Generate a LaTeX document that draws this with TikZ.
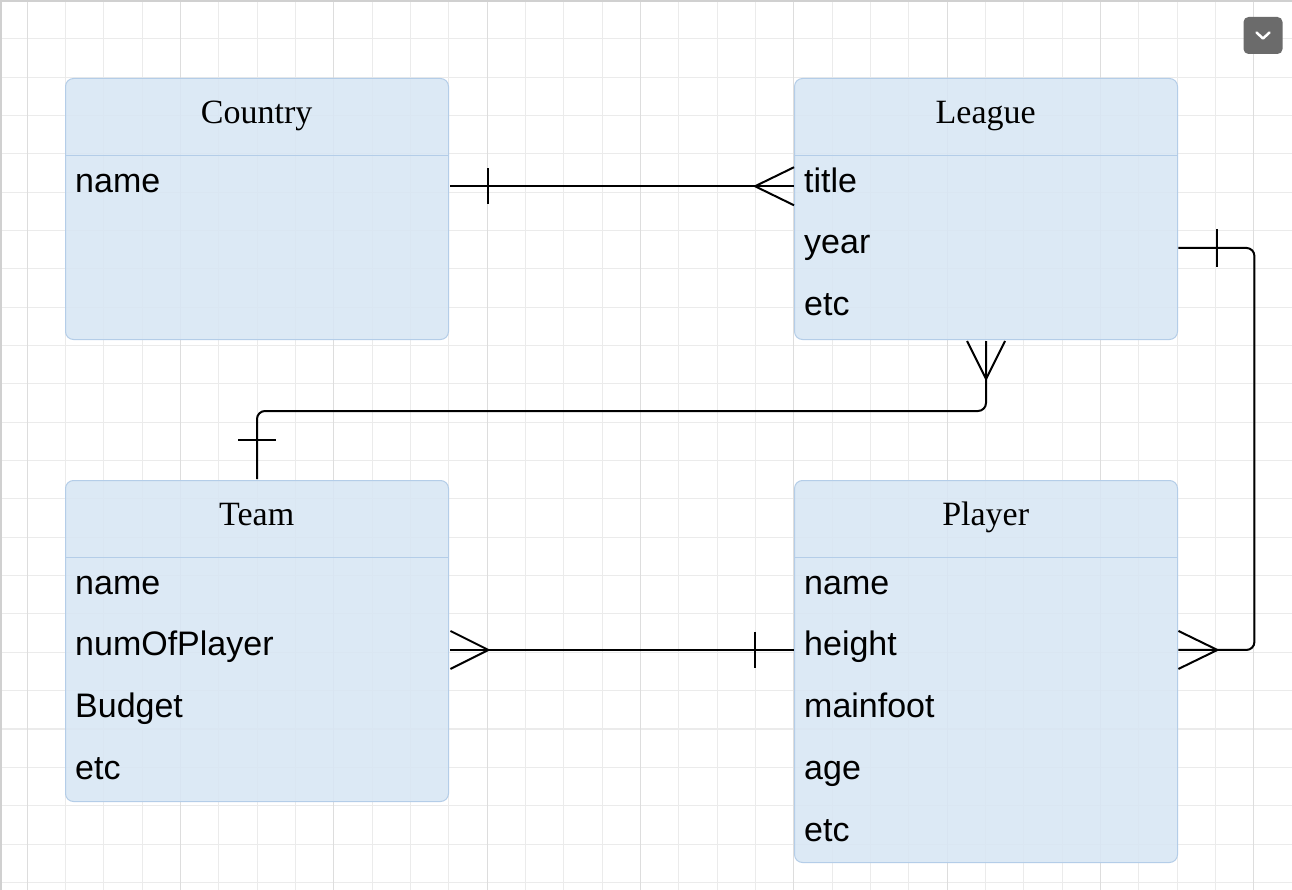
\documentclass[tikz,border=0pt]{standalone}
\usepackage{fontspec}
\setmainfont{Liberation Serif}
\setsansfont{Liberation Sans}
\definecolor{boxfill}{HTML}{D8E6F4}
\definecolor{boxline}{HTML}{B4CDE8}
\definecolor{gridminor}{HTML}{EBEBEB}
\definecolor{gridmajor}{HTML}{DDDDDD}
\definecolor{btn}{HTML}{6B6B6B}
\definecolor{frameline}{HTML}{D0D0D0}
\begin{document}
\begin{tikzpicture}[x=1pt,y=-1pt,
  entity/.style={draw=boxline, line width=1pt, fill=boxfill, fill opacity=0.88,
    rounded corners=8pt, minimum width=383pt, anchor=north west, inner sep=0pt},
  header/.style={minimum width=383pt, minimum height=77pt, anchor=north west,
    inner sep=0pt, font=\fontsize{34}{40}\selectfont, text height=14pt, text depth=0pt},
  sepline/.style={draw=boxline, line width=1pt},
  field/.style={minimum width=383pt, minimum height=61.3pt, anchor=north west,
    inner xsep=10pt, inner ysep=0pt, text width=363pt, align=left,
    font=\sffamily\fontsize{34}{40}\selectfont, text height=24pt, text depth=12pt},
  rel/.style={line width=2pt, black, rounded corners=8pt},
  crow/.style={line width=2pt, black, line join=miter},
  tickbar/.style={line width=2pt, black},
]
\useasboundingbox (0,0) rectangle (1292,890);
\fill[white] (0,0) rectangle (1292,890);
% grid
\foreach \i in {0,...,33} { \draw[gridminor, line width=1pt] ({27+38.333*\i},0) -- ({27+38.333*\i},890); }
\foreach \i in {0,...,22} { \draw[gridminor, line width=1pt] (0,{39+38.333*\i}) -- (1292,{39+38.333*\i}); }
\foreach \i in {0,...,8} { \draw[gridmajor, line width=1pt] ({27+153.333*\i},0) -- ({27+153.333*\i},890); }
\draw[frameline, line width=2pt] (1,890) -- (1,1) -- (1292,1);

% Country
\node[entity, minimum height=261pt] (country) at (65,78) {};
\node[header] (countryH) at (65,78) {Country};
\draw[sepline] (countryH.south west) -- (countryH.south east);
\node[field] (country-name) at (countryH.south west) {name};

% League
\node[entity, minimum height=261pt] (league) at (794,78) {};
\node[header] (leagueH) at (794,78) {League};
\draw[sepline] (leagueH.south west) -- (leagueH.south east);
\node[field] (league-title) at (leagueH.south west) {title};
\node[field] (league-year) at (league-title.south west) {year};
\node[field] (league-etc) at (league-year.south west) {etc};

% Team
\node[entity, minimum height=321pt] (team) at (65,480) {};
\node[header] (teamH) at (65,480) {Team};
\draw[sepline] (teamH.south west) -- (teamH.south east);
\node[field] (team-name) at (teamH.south west) {name};
\node[field] (team-num) at (team-name.south west) {numOfPlayer};
\node[field] (team-budget) at (team-num.south west) {Budget};
\node[field] (team-etc) at (team-budget.south west) {etc};

% Player
\node[entity, minimum height=382pt] (player) at (794,480) {};
\node[header] (playerH) at (794,480) {Player};
\draw[sepline] (playerH.south west) -- (playerH.south east);
\node[field] (player-name) at (playerH.south west) {name};
\node[field] (player-height) at (player-name.south west) {height};
\node[field] (player-main) at (player-height.south west) {mainfoot};
\node[field] (player-age) at (player-main.south west) {age};
\node[field] (player-etc) at (player-age.south west) {etc};

% Country -- League
\draw[rel] ([xshift=2pt]country-name.east) -- (league-title.west);
\draw[tickbar] ([xshift=40pt,yshift=18pt]country-name.east) -- ([xshift=40pt,yshift=-18pt]country-name.east);
\draw[crow] ([yshift=19pt]league-title.west) -- ([xshift=-39pt]league-title.west) -- ([yshift=-19pt]league-title.west);

% League -- Player
\draw[rel] ([xshift=1pt]league-year.east) -- ++(76,0) |- ([xshift=1pt]player-height.east);
\draw[tickbar] ([xshift=40pt,yshift=19pt]league-year.east) -- ([xshift=40pt,yshift=-19pt]league-year.east);
\draw[crow] ([xshift=1pt,yshift=19pt]player-height.east) -- ([xshift=40pt]player-height.east) -- ([xshift=1pt,yshift=-19pt]player-height.east);

% League -- Team
\draw[rel] ([yshift=-1pt]league.south) -- ++(0,70) -| ([yshift=1pt]team.north);
\draw[crow] ([xshift=-19pt,yshift=-1pt]league.south) -- ([yshift=-39pt]league.south) -- ([xshift=19pt,yshift=-1pt]league.south);
\draw[tickbar] ([xshift=-19pt,yshift=40pt]team.north) -- ([xshift=19pt,yshift=40pt]team.north);

% Team -- Player
\draw[rel] ([xshift=2pt]team-num.east) -- (player-height.west);
\draw[crow] ([xshift=2pt,yshift=19pt]team-num.east) -- ([xshift=40pt]team-num.east) -- ([xshift=2pt,yshift=-19pt]team-num.east);
\draw[tickbar] ([xshift=-39pt,yshift=18pt]player-height.west) -- ([xshift=-39pt,yshift=-18pt]player-height.west);

% menu button
\node[fill=btn, rounded corners=5pt, minimum width=39pt, minimum height=37pt, inner sep=0pt] (menu) at (1263,35.5) {};
\draw[white, line width=2.5pt, line cap=round, line join=round]
  ([xshift=-6.5pt,yshift=3pt]menu.center) -- ([yshift=-3pt]menu.center) -- ([xshift=6.5pt,yshift=3pt]menu.center);
\end{tikzpicture}
\end{document}
